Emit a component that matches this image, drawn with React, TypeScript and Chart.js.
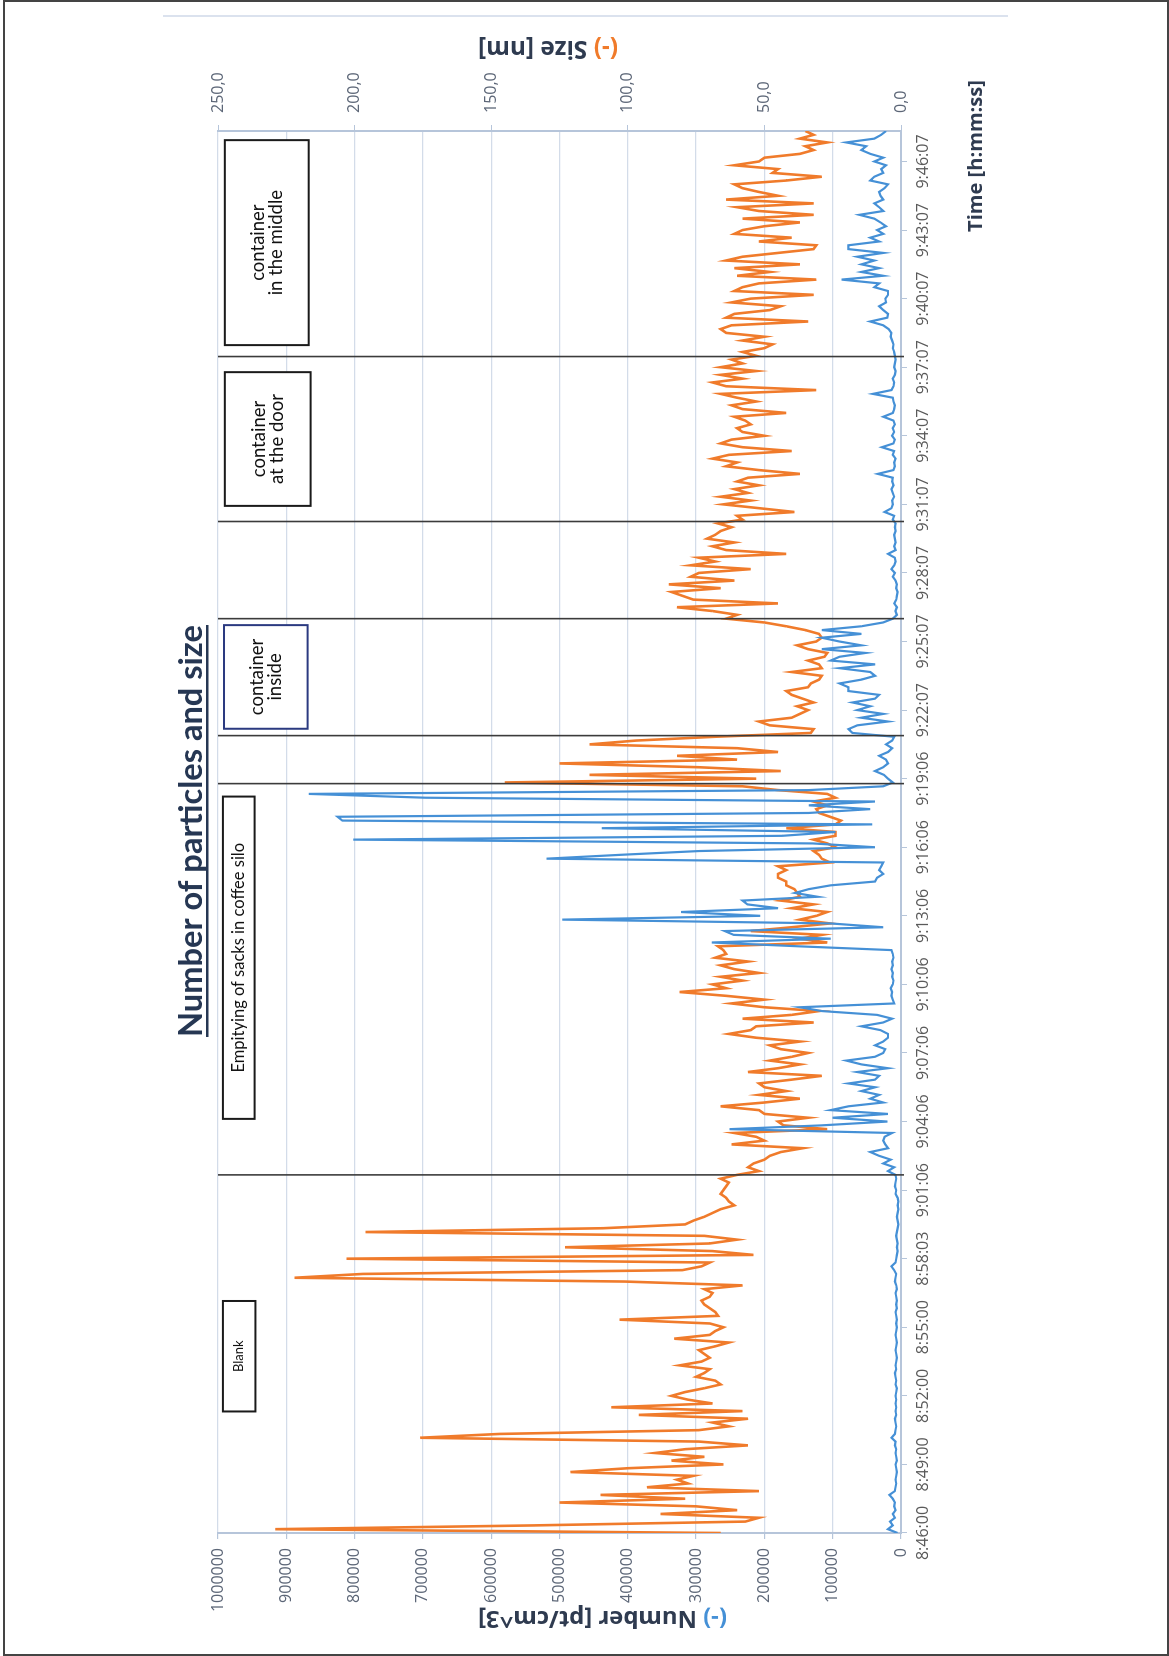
import React, { useEffect, useRef } from "react";
import { Chart, registerables } from "chart.js";

Chart.register(...registerables);

// ---------- data ----------
const TICK_LABELS = [
  "8:46:00", "8:49:00", "8:52:00", "8:55:00", "8:58:03", "9:01:06", "9:04:06",
  "9:07:06", "9:10:06", "9:13:06", "9:16:06", "9:19:06", "9:22:07", "9:25:07",
  "9:28:07", "9:31:07", "9:34:07", "9:37:07", "9:40:07", "9:43:07", "9:46:07",
];
const TICK_EVERY = 18; // samples between labelled ticks
const LAST_INDEX = 368;

// (-) Number [pt/cm^3]
const NUMBER = [
  5000, 19000, 12000, 16000, 9000, 12000, 8000, 10000, 9000, 12000,
  17000, 9000, 8000, 7000, 8000, 7000, 6000, 7000, 8000, 6000,
  7000, 8000, 7000, 9000, 8000, 14000, 9000, 8000, 7000, 8000,
  9000, 7000, 8000, 7000, 8000, 7000, 8000, 7000, 6000, 8000,
  7000, 8000, 9000, 7000, 8000, 7000, 6000, 7000, 8000, 7000,
  6000, 7000, 8000, 7000, 6000, 7000, 6000, 7000, 8000, 6000,
  7000, 6000, 7000, 8000, 6000, 7000, 9000, 8000, 7000, 10000,
  14000, 8000, 7000, 6000, 5000, 6000, 5000, 6000, 7000, 6000,
  5000, 4000, 5000, 6000, 5000, 4000, 5000, 4000, 5000, 8000,
  7000, 9000, 8000, 7000, 8000, 19000, 10000, 26000, 15000, 32000,
  45000, 19000, 23000, 26000, 24000, 13000, 251000, 116000, 20000, 100000,
  19000, 103000, 77000, 26000, 45000, 32000, 58000, 38000, 77000, 38000,
  32000, 64000, 19000, 58000, 80000, 38000, 26000, 23000, 38000, 26000,
  19000, 19000, 30000, 58000, 26000, 13000, 35000, 116000, 148000, 10000,
  12000, 14000, 13000, 15000, 12000, 11000, 13000, 12000, 14000, 12000,
  13000, 11000, 12000, 14000, 150000, 277000, 103000, 245000, 258000, 26000,
  103000, 496000, 206000, 322000, 180000, 225000, 232000, 122000, 155000, 135000,
  103000, 38000, 35000, 26000, 32000, 29000, 26000, 519000, 412000, 296000,
  38000, 129000, 802000, 174000, 96000, 438000, 42000, 818000, 825000, 135000,
  45000, 135000, 38000, 696000, 867000, 135000, 26000, 12000, 19000, 25000,
  38000, 26000, 19000, 22000, 32000, 19000, 13000, 22000, 13000, 10000,
  71000, 77000, 64000, 19000, 58000, 26000, 64000, 45000, 71000, 38000,
  32000, 77000, 77000, 90000, 58000, 38000, 45000, 90000, 38000, 103000,
  90000, 52000, 116000, 58000, 90000, 116000, 58000, 116000, 58000, 26000,
  12000, 6000, 8000, 6000, 10000, 7000, 6000, 5000, 7000, 6000,
  8000, 12000, 9000, 14000, 10000, 8000, 9000, 19000, 8000, 10000,
  8000, 9000, 10000, 8000, 9000, 8000, 12000, 10000, 24000, 14000,
  12000, 13000, 10000, 12000, 14000, 11000, 13000, 12000, 34000, 11000,
  9000, 10000, 8000, 12000, 10000, 28000, 11000, 9000, 13000, 10000,
  12000, 9000, 11000, 26000, 12000, 10000, 9000, 11000, 12000, 41000,
  14000, 11000, 10000, 12000, 9000, 8000, 10000, 9000, 8000, 9000,
  10000, 12000, 11000, 13000, 15000, 14000, 18000, 26000, 45000, 20000,
  19000, 26000, 32000, 22000, 23000, 19000, 19000, 39000, 32000, 87000,
  26000, 58000, 32000, 58000, 39000, 64000, 26000, 77000, 77000, 32000,
  45000, 26000, 35000, 22000, 30000, 39000, 61000, 26000, 32000, 39000,
  26000, 30000, 32000, 24000, 19000, 45000, 39000, 26000, 29000, 22000,
  39000, 26000, 45000, 58000, 51000, 80000, 39000, 29000, 22000,
];

// (-) Size [nm]
const SIZE = [
  66, 229, 134, 57, 52, 88, 60, 75, 125, 79,
  110, 52, 93, 78, 82, 76, 121, 100, 65, 84,
  72, 90, 79, 56, 74, 176, 147, 74, 63, 69,
  56, 96, 58, 106, 69, 78, 84, 79, 72, 66,
  68, 75, 72, 70, 81, 73, 70, 72, 74, 68,
  63, 83, 70, 68, 65, 70, 103, 67, 68, 70,
  72, 73, 70, 69, 72, 58, 101, 222, 197, 80,
  73, 70, 203, 54, 69, 123, 70, 60, 72, 196,
  109, 79, 76, 72, 69, 66, 61, 63, 64, 66,
  65, 64, 63, 66, 60, 52, 56, 54, 50, 48,
  44, 36, 62, 50, 53, 61, 27, 43, 45, 34,
  50, 52, 66, 50, 37, 52, 42, 50, 52, 40,
  29, 56, 45, 37, 48, 40, 34, 44, 48, 37,
  53, 63, 55, 53, 32, 58, 40, 30, 50, 62,
  50, 64, 81, 64, 69, 58, 66, 52, 61, 66,
  56, 68, 64, 65, 67, 27, 37, 29, 55, 40,
  26, 37, 31, 27, 40, 32, 44, 37, 38, 39,
  42, 42, 45, 45, 42, 45, 26, 29, 30, 32,
  24, 27, 32, 24, 24, 42, 24, 22, 26, 30,
  31, 27, 32, 24, 27, 45, 58, 145, 53, 114,
  44, 74, 125, 60, 82, 45, 60, 114, 97, 68,
  33, 32, 48, 52, 40, 37, 34, 38, 32, 36,
  40, 42, 34, 33, 30, 29, 40, 29, 30, 34,
  28, 27, 34, 38, 31, 29, 30, 35, 42, 50,
  64, 60, 69, 82, 45, 76, 80, 84, 66, 85,
  61, 77, 74, 55, 77, 68, 74, 42, 64, 69,
  61, 71, 68, 66, 62, 67, 58, 60, 39, 52,
  65, 55, 66, 56, 61, 52, 60, 56, 37, 52,
  64, 60, 69, 63, 40, 58, 66, 62, 50, 58,
  60, 55, 57, 61, 42, 58, 62, 53, 60, 66,
  31, 64, 69, 58, 66, 53, 66, 58, 62, 53,
  58, 50, 47, 58, 50, 64, 66, 62, 34, 64,
  61, 48, 44, 62, 55, 32, 61, 58, 52, 31,
  60, 48, 61, 37, 64, 58, 45, 32, 31, 52,
  40, 61, 58, 50, 37, 58, 32, 52, 60, 32,
  64, 45, 52, 58, 61, 42, 29, 47, 45, 61,
  52, 50, 37, 32, 35, 27, 37, 32, 35,
];

// phase boundaries (sample index)
const PHASE_AT = [94.0, 196.7, 209.3, 240.0, 265.5, 308.8];

// annotation boxes
const BOX_LINES = [
  ["Blank"],
  ["Empitying of sacks in coffee silo"],
  ["container", "inside"],
  ["container", "at the door"],
  ["container", "in the middle"],
];
const BOX_START = [31.9, 108.7, 211.1, 269.6, 311.8];
const BOX_END = [60.9, 193.3, 238.3, 304.7, 365.6];
const BOX_OUTER = [248.2, 248.2, 247.8, 247.5, 247.5];
const BOX_INNER = [236.3, 236.6, 217.2, 216.1, 216.8];
const BOX_BORDER = ["#1a1a1a", "#1a1a1a", "#2b3a80", "#1a1a1a", "#1a1a1a"];
const BOX_FONT = [13, 16.5, 18.5, 18.5, 18.5];
const BOX_LINE_GAP = 18;

const TITLE = "Number of particles and size";

// ---------- styles ----------
const CW = 1640;
const CH = 900;
const BLUE = "#4590d6";
const ORANGE = "#f07b2b";
const GRID = "#d3dce9";
const AXIS = "#b6c5da";
const DARK = "#263753";
const TICKCOL = "#5c6677";

function fitSize(ctx: any, text: string, weight: string, family: string, target: number) {
  ctx.font = `${weight} 100px ${family}`;
  const w = ctx.measureText(text).width;
  return (100 * target) / w;
}

function drawParts(ctx: any, parts: [string, string][], font: string) {
  ctx.font = font;
  const widths = parts.map((p) => ctx.measureText(p[0]).width);
  const total = widths.reduce((a, b) => a + b, 0);
  let x = -total / 2;
  ctx.textAlign = "left";
  ctx.textBaseline = "middle";
  parts.forEach((p, i) => {
    ctx.fillStyle = p[1];
    ctx.fillText(p[0], x, 0);
    x += widths[i];
  });
}

const overlay = {
  id: "overlay",
  afterDatasetsDraw(chart: any) {
    const { ctx, chartArea: a } = chart;
    const xs = chart.scales.x;
    const ys = chart.scales.ySize;
    ctx.save();
    // phase lines
    ctx.strokeStyle = "#3b3b3b";
    ctx.lineWidth = 1.6;
    PHASE_AT.forEach((p) => {
      const u = xs.getPixelForValue(p);
      ctx.beginPath();
      ctx.moveTo(u, a.top);
      ctx.lineTo(u, a.bottom + 3);
      ctx.stroke();
    });
    // boxes
    BOX_LINES.forEach((lines, i) => {
      const u1 = xs.getPixelForValue(BOX_START[i]);
      const u2 = xs.getPixelForValue(BOX_END[i]);
      const v1 = ys.getPixelForValue(BOX_OUTER[i]);
      const v2 = ys.getPixelForValue(BOX_INNER[i]);
      ctx.fillStyle = "#ffffff";
      ctx.fillRect(u1, v1, u2 - u1, v2 - v1);
      ctx.strokeStyle = BOX_BORDER[i];
      ctx.lineWidth = 2;
      ctx.strokeRect(u1, v1, u2 - u1, v2 - v1);
      ctx.fillStyle = "#111111";
      ctx.font = `${BOX_FONT[i]}px Lato`;
      ctx.textAlign = "center";
      ctx.textBaseline = "middle";
      const cu = (u1 + u2) / 2;
      const cv = (v1 + v2) / 2;
      lines.forEach((t, k) => ctx.fillText(t, cu, cv + (k - (lines.length - 1) / 2) * BOX_LINE_GAP));
    });
    ctx.restore();
  },
  afterDraw(chart: any) {
    const ctx = chart.ctx;
    ctx.save();
    // thin frame line
    ctx.strokeStyle = "#cfd9e8";
    ctx.lineWidth = 1.5;
    ctx.beginPath();
    ctx.moveTo(1624, 33);
    ctx.lineTo(1624, 878);
    ctx.stroke();

    // main title
    const ts = fitSize(ctx, TITLE, "bold", "Lato", 412);
    ctx.font = `bold ${ts}px Lato`;
    ctx.fillStyle = DARK;
    ctx.textAlign = "center";
    ctx.textBaseline = "middle";
    ctx.fillText(TITLE, 809, 61.5);
    ctx.fillRect(809 - 206, 76, 412, 2.5);

    // time axis title
    const tt = "Time [h:mm:ss]";
    const tsz = fitSize(ctx, tt, "bold", "'Open Sans'", 152);
    ctx.font = `bold ${tsz}px 'Open Sans'`;
    ctx.fillStyle = "#2f3b50";
    ctx.fillText(tt, 1484, 846);

    // number axis title (bottom-to-top)
    const np: [string, string][] = [["(-) ", BLUE], ["Number [pt/cm^3]", "#2f3b50"]];
    const nsz = fitSize(ctx, "(-) Number [pt/cm^3]", "bold", "'Open Sans'", 249);
    ctx.save();
    ctx.translate(22, 472.5);
    ctx.rotate(-Math.PI / 2);
    drawParts(ctx, np, `bold ${nsz}px 'Open Sans'`);
    ctx.restore();

    // size axis title (bottom-to-top)
    const sp: [string, string][] = [["(-) ", ORANGE], ["Size [nm]", "#2f3b50"]];
    const ssz = fitSize(ctx, "(-) Size [nm]", "bold", "'Open Sans'", 140);
    ctx.save();
    ctx.translate(1592.5, 418);
    ctx.rotate(-Math.PI / 2);
    drawParts(ctx, sp, `bold ${ssz}px 'Open Sans'`);
    ctx.restore();

    ctx.restore();
  },
};

export default function App() {
  const ref = useRef<HTMLCanvasElement>(null);

  useEffect(() => {
    const canvas = ref.current;
    if (!canvas) return;
    const tickFont = { family: "'Open Sans'", size: 16 };
    const chart = new Chart(canvas, {
      type: "line",
      data: {
        datasets: [
          {
            label: "Number",
            data: NUMBER.map((v, i) => ({ x: i, y: v })),
            yAxisID: "yNum",
            borderColor: BLUE,
            backgroundColor: BLUE,
            borderWidth: 2.2,
            pointRadius: 0,
            tension: 0,
            order: 0,
          },
          {
            label: "Size",
            data: SIZE.map((v, i) => ({ x: i, y: v })),
            yAxisID: "ySize",
            borderColor: ORANGE,
            backgroundColor: ORANGE,
            borderWidth: 2.6,
            pointRadius: 0,
            tension: 0,
            order: 1,
          },
        ],
      },
      options: {
        animation: false,
        responsive: false,
        maintainAspectRatio: false,
        devicePixelRatio: 1,
        layout: { padding: { top: 88, left: 0, right: 0, bottom: 0 } },
        plugins: {
          legend: { display: false },
          tooltip: { enabled: false },
          title: { display: false },
        },
        scales: {
          x: {
            type: "linear",
            position: "bottom",
            min: 0,
            max: LAST_INDEX,
            afterBuildTicks: (scale: any) => {
              scale.ticks = TICK_LABELS.map((_, i) => ({ value: i * TICK_EVERY }));
            },
            afterFit: (scale: any) => {
              scale.height = 129;
            },
            ticks: {
              autoSkip: false,
              maxRotation: 0,
              minRotation: 0,
              padding: 7,
              color: "#5a5a5a",
              font: tickFont,
              callback: (v: any) => TICK_LABELS[Math.round(v / TICK_EVERY)] ?? "",
            },
            grid: { drawOnChartArea: false, drawTicks: true, tickLength: 6, tickColor: AXIS, color: AXIS },
            border: { display: true, color: AXIS, width: 2 },
          },
          yNum: {
            type: "linear",
            position: "left",
            min: 0,
            max: 1000000,
            afterFit: (scale: any) => {
              scale.width = 107;
            },
            ticks: {
              stepSize: 100000,
              padding: 9,
              color: TICKCOL,
              font: tickFont,
              callback: (v: any) => String(v),
            },
            grid: { color: GRID, lineWidth: 1.2, drawTicks: true, tickLength: 6, tickColor: AXIS },
            border: { display: true, color: AXIS, width: 2 },
          },
          ySize: {
            type: "linear",
            position: "right",
            min: 0,
            max: 250,
            afterFit: (scale: any) => {
              scale.width = 131;
            },
            ticks: {
              stepSize: 50,
              padding: 12,
              color: TICKCOL,
              font: tickFont,
              callback: (v: any) => Number(v).toFixed(1).replace(".", ","),
            },
            grid: { drawOnChartArea: false, drawTicks: true, tickLength: 6, tickColor: AXIS },
            border: { display: true, color: AXIS, width: 2 },
          },
        },
      },
      plugins: [overlay],
    } as any);
    return () => chart.destroy();
  }, []);

  return (
    <div
      style={{
        position: "fixed",
        left: 0,
        top: 0,
        width: 1169,
        height: 1656,
        background: "#ffffff",
        overflow: "hidden",
      }}
    >
      <div
        style={{
          position: "absolute",
          left: 0,
          top: 0,
          width: CW,
          height: CH,
          transformOrigin: "0 0",
          transform: `translate(130px, ${CW}px) rotate(-90deg)`,
        }}
      >
        <canvas ref={ref} width={CW} height={CH} style={{ width: CW, height: CH, display: "block" }} />
      </div>
      <div
        style={{
          position: "absolute",
          left: 3,
          top: 0,
          width: 1166,
          height: 1656,
          border: "2px solid #444444",
          boxSizing: "border-box",
          pointerEvents: "none",
        }}
      />
    </div>
  );
}
